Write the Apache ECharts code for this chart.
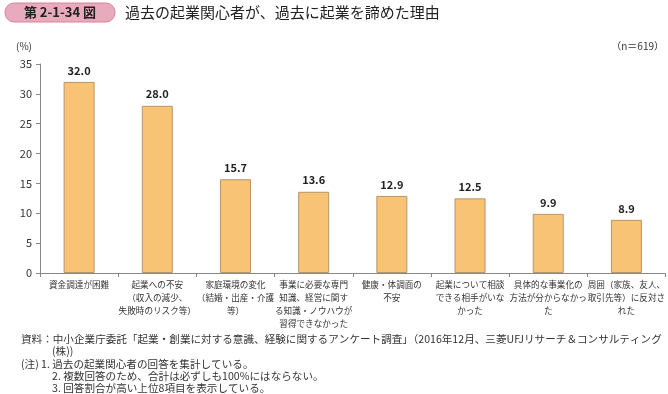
<!DOCTYPE html>
<html><head><meta charset="utf-8">
<script src="https://cdn.jsdelivr.net/npm/echarts@6/dist/echarts.min.js"></script>
<style>html,body{margin:0;padding:0;background:#fff}#c{width:668px;height:394px}</style>
</head><body><div id="c"></div>
<script>
var categories = [
  '資金調達が困難',
  '起業への不安\n（収入の減少、\n失敗時のリスク等）',
  '家庭環境の変化\n（結婚・出産・介護\n等）',
  '事業に必要な専門\n知識、経営に関す\nる知識・ノウハウが\n習得できなかった',
  '健康・体調面の\n不安',
  '起業について相談\nできる相手がいな\nかった',
  '具体的な事業化の\n方法が分からなかっ\nた',
  '周囲（家族、友人、\n取引先等）に反対さ\nれた'
];
var values = [32.0, 28.0, 15.7, 13.6, 12.9, 12.5, 9.9, 8.9];
var yTicks = [0, 5, 10, 15, 20, 25, 30, 35];
var titleLabel = '第 2-1-34 図';
var titleText = '過去の起業関心者が、過去に起業を諦めた理由';
var unitLabel = '(%)';
var nLabel = '（n＝619）';
var sourceLines = [
  '資料：中小企業庁委託「起業・創業に対する意識、経験に関するアンケート調査」（2016年12月、三菱UFJリサーチ＆コンサルティング',
  '(株))'
];
var noteHead = '(注)';
var noteLines = [
  '1. 過去の起業関心者の回答を集計している。',
  '2. 複数回答のため、合計は必ずしも100%にはならない。',
  '3. 回答割合が高い上位8項目を表示している。'
];
var FF = '"Noto Sans CJK JP","Noto Sans",sans-serif';
var chart = echarts.init(document.getElementById('c'));
var NF = '10.6px ' + FF;
var g = [
  {type:'rect', shape:{x:5,y:3,width:110,height:19,r:9}, style:{fill:'#e8aabd',stroke:'#d9829f',lineWidth:1}},
  {type:'text', x:60, y:12.5, style:{text:titleLabel, fill:'#222', font:'bold 13px '+FF, align:'center', verticalAlign:'middle'}},
  {type:'text', x:125, y:12.5, style:{text:titleText, fill:'#222', font:'15px '+FF, verticalAlign:'middle'}},
  {type:'text', x:24, y:46, style:{text:unitLabel, fill:'#333', font:'10px '+FF, align:'center', verticalAlign:'middle'}},
  {type:'text', x:664, y:46, style:{text:nLabel, fill:'#333', font:'10px '+FF, align:'right', verticalAlign:'middle'}},
  {type:'text', x:21, y:339, style:{text:sourceLines[0], fill:'#333', font:NF, verticalAlign:'middle'}},
  {type:'text', x:52, y:351.3, style:{text:sourceLines[1], fill:'#333', font:NF, verticalAlign:'middle'}},
  {type:'text', x:21, y:363.6, style:{text:noteHead, fill:'#333', font:NF, verticalAlign:'middle'}}
];
noteLines.forEach(function(t,i){
  g.push({type:'text', x:i===0?41:52, y:363.6+i*12.3, style:{text:t, fill:'#333', font:NF, verticalAlign:'middle'}});
});
chart.setOption({
  animation:false,
  textStyle:{fontFamily:FF},
  grid:{left:40,right:1,top:64,bottom:121,containLabel:false},
  xAxis:{type:'category', data:categories,
    axisLine:{lineStyle:{color:'#888'}},
    axisTick:{show:true,alignWithLabel:false,length:4,lineStyle:{color:'#888'}},
    axisLabel:{interval:0,color:'#333',fontSize:8.6,lineHeight:13,margin:5,fontFamily:FF}
  },
  yAxis:{type:'value', min:0, max:35, interval:5,
    axisLine:{show:true,lineStyle:{color:'#888'}},
    axisTick:{show:true,length:4,lineStyle:{color:'#888'}},
    splitLine:{show:false},
    axisLabel:{color:'#333',fontSize:11,margin:8,fontFamily:FF,
      formatter:function(v){return yTicks.indexOf(v)>=0?String(v):'';}}
  },
  series:[{type:'bar', data:values, barWidth:31,
    itemStyle:{color:'#f9c376',borderColor:'#b8956a',borderWidth:1},
    label:{show:true,position:'top',distance:6,color:'#222',fontSize:11,fontWeight:'bold',fontFamily:FF,
      formatter:function(p){return p.value.toFixed(1);}}
  }],
  graphic:g
});
</script></body></html>
